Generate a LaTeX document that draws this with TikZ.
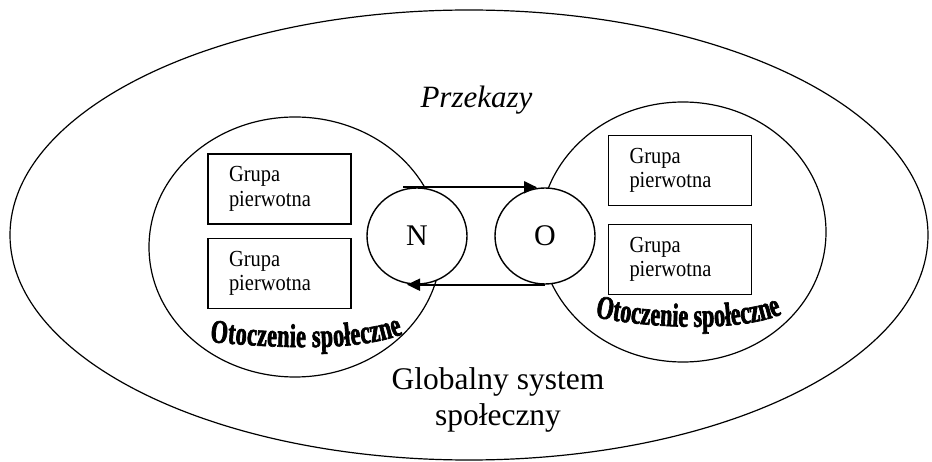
\documentclass[tikz,border=0pt]{standalone}
\usepackage{fontspec}
\setmainfont{Liberation Serif}
% condensed heavy face for the arched labels
\newfontfamily\artfont[FakeStretch=0.67,FakeBold=2]{Liberation Serif}
% slightly narrowed face for the group boxes
\newfontfamily\boxfont[FakeStretch=0.89]{Liberation Serif}
\usetikzlibrary{shapes.geometric,arrows.meta,calc,decorations.text}
\begin{document}
\begin{tikzpicture}[x=1pt,y=1pt,
  ring/.style={draw, line width=1.2pt},
  groupbox/.style={draw, line width=1.8pt, minimum width=143pt, minimum height=70pt,
    text width=101pt, inner xsep=21pt, inner ysep=0pt, align=left,
    font=\boxfont\fontsize{23}{24.5}\selectfont},
  actor/.style={ellipse, draw, line width=1.4pt, fill=white, minimum width=100pt,
    minimum height=96pt, inner sep=0pt, font=\fontsize{30}{30}\selectfont},
  flow/.style={line width=2pt, -{Triangle[length=13pt,width=12pt]}},
  arched/.style={decorate, decoration={text along path, text align={fit to path},
    text={|\artfont\bfseries\fontsize{33}{33}\selectfont|Otoczenie społeczne}}}
]
\useasboundingbox (0,0) rectangle (932,461);

% global social system
\draw[ring] (469,226) ellipse [x radius=459, y radius=225];

% the two social surroundings
\draw[ring] (295,214) ellipse [x radius=146, y radius=130];
\draw[ring] (683,229) ellipse [x radius=143, y radius=130];

% primary groups
\node[groupbox] (gl1) at (279.5,272) {Grupa\\pierwotna};
\node[groupbox] (gl2) at (279.5,187.5) {Grupa\\pierwotna};
\node[groupbox] (gr1) at (680,290.5) {Grupa\\pierwotna};
\node[groupbox] (gr2) at (680,201.5) {Grupa\\pierwotna};

% sender and receiver
\node[actor] (N) at (417,225) {N};
\node[actor] (O) at (545,225) {O};

% exchange between them
\draw[flow] ($(N.north)+(-14,0)$) -- ($(O.north)+(-8,0)$);
\draw[flow] (O.south) -- ($(N.south)+(-10,0)$);

% labels
\node[anchor=base, font=\itshape\fontsize{31}{31}\selectfont] (msg) at (476.5,353) {Przekazy};
\node[anchor=base, align=center, font=\fontsize{31.5}{36}\selectfont] (glob) at (498,36)
  {Globalny system\\społeczny};

\path[arched] (210,119) .. controls (285,112) and (360,110) .. (403,127);
\path[arched] (595,144) .. controls (645,133) and (740,128) .. (782,147);
\end{tikzpicture}
\end{document}
